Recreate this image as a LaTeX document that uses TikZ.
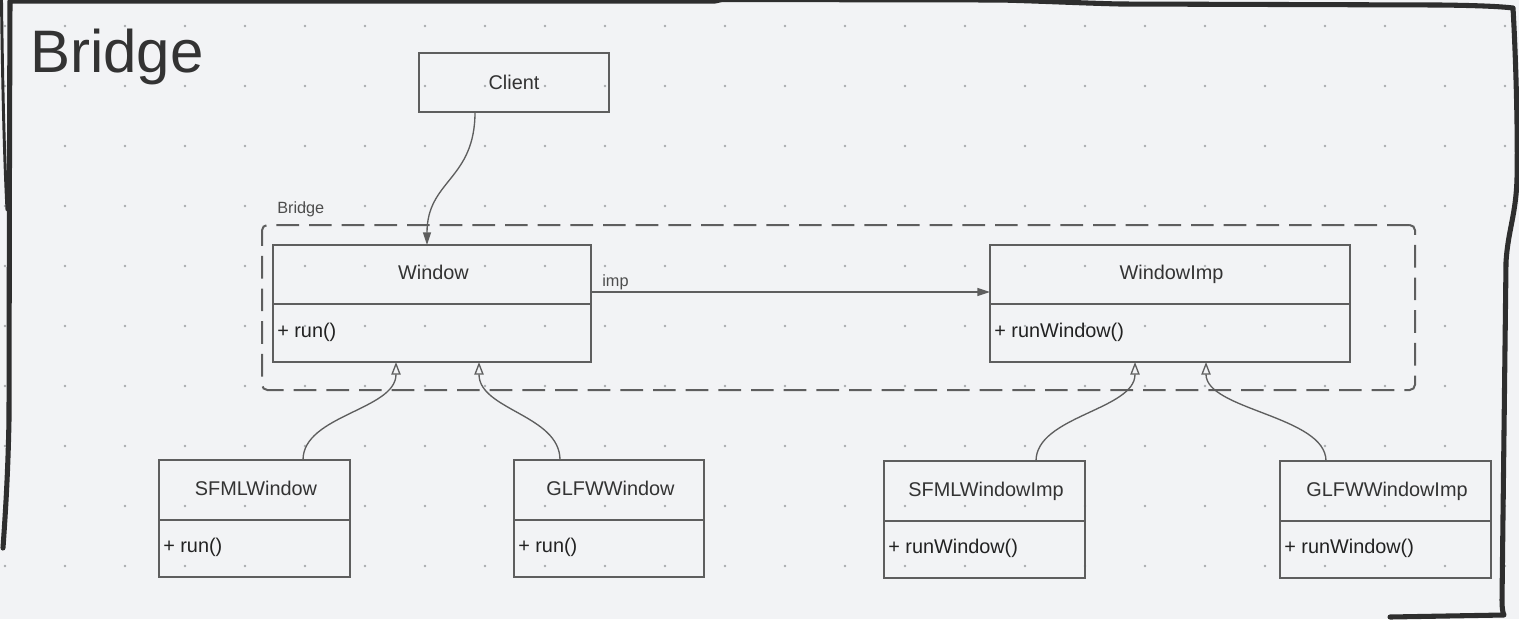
\documentclass[tikz,border=0pt]{standalone}
\usepackage{fontspec}
\setmainfont{Liberation Sans}
\usetikzlibrary{arrows.meta,calc}

\definecolor{canvas}{HTML}{F2F3F5}
\definecolor{griddot}{HTML}{A9ABAE}
\definecolor{ink}{HTML}{333333}
\definecolor{inkdark}{HTML}{222222}
\definecolor{umlline}{HTML}{5E5E5E}
\definecolor{marker}{HTML}{2E2E2E}
\definecolor{labelgray}{HTML}{4D4D4D}

% UML class: name, left, top, right, divider y, bottom, class name, operation
\newcommand\umlclass[8]{%
  \node[classbox, minimum width={(#4-#2)*0.75pt}, minimum height={(#6-#3)*0.75pt}]
    (#1) at ({(#2+#4)/2},{(#3+#6)/2}) {};
  \draw[divider] ($(#1.north west)+(0,#5-#3)$) -- ($(#1.north east)+(0,#5-#3)$);
  \node[classname] (#1-name) at ({(#2+#4)/2+1.5},{(#3+#5)/2+5}) {#7};
  \node[classop] (#1-op) at ({#2+4},{(#5+#6)/2+4}) {#8};
}

\begin{document}
\begin{tikzpicture}[x=0.75pt,y=-0.75pt,
  classbox/.style={draw=umlline, line width=1.5pt, inner sep=0pt, outer sep=0pt},
  divider/.style={draw=umlline, line width=1.5pt},
  classname/.style={anchor=base, inner sep=0pt, text=ink, font=\fontsize{14.9}{17}\selectfont},
  classop/.style={anchor=base west, inner sep=0pt, text=inkdark, font=\fontsize{14.9}{17}\selectfont},
  smalllabel/.style={inner sep=0pt, text=labelgray, font=\fontsize{12.2}{14}\selectfont},
  assoc/.style={draw=umlline, line width=1pt, -{Triangle[length=9.5pt,width=6pt]}},
  inherit/.style={draw=umlline, line width=1pt, -{Triangle[open,length=9.5pt,width=7pt]}},
  border/.style={draw=marker, line width=3.8pt, line cap=round, line join=round},
]
\useasboundingbox (0,0) rectangle (1519,619);
\clip (0,0) rectangle (1519,619);
\fill[canvas] (0,0) rectangle (1519,619);

% dotted canvas grid
\foreach \i in {0,...,25}{
  \foreach \j in {0,...,9}{
    \fill[griddot] ({5+60*\i},{26+60*\j}) circle[radius=1pt];
  }
}

% hand-drawn frame
\draw[border] (3,548) .. controls (6,505) and (8,470) .. (9,420) -- (9.5,150) -- (10,1)
  -- (715,1) -- (722,-0.5) -- (1000,0) .. controls (1040,1) and (1080,3) .. (1120,4)
  -- (1440,5) .. controls (1480,5.5) and (1500,6.5) .. (1513,8)
  .. controls (1516,60) and (1518,140) .. (1517,178)
  .. controls (1516,215) and (1508,230) .. (1506,262)
  -- (1502,600) .. controls (1502,610) and (1503,613) .. (1504,615)
  -- (1390,617);
\draw[draw=marker, line width=2.2pt, line cap=round] (1.5,0) .. controls (2.5,80) and (4,150) .. (7,210);

% title
\node[anchor=base west, inner sep=0pt, text=ink, font=\fontsize{45}{50}\selectfont]
  (title) at (30,72) {Bridge};

% group frame
\node[draw=umlline, line width=1.5pt, dash pattern=on 17pt off 7.5pt, rounded corners=4pt,
  inner sep=0pt, outer sep=0pt,
  minimum width={(1415-262)*0.75pt}, minimum height={(390-225)*0.75pt}]
  (bridge-group) at (838.5,307.5) {};
\node[smalllabel, anchor=base west] (group-label) at (277,213) {Bridge};

% client
\node[classbox, text=ink, font=\fontsize{14.9}{17}\selectfont,
  minimum width={190*0.75pt}, minimum height={59*0.75pt}]
  (client) at (514,82.5) {Client};

% classes
\umlclass{win}{273}{245}{591}{304}{362}{Window}{+ run()}
\umlclass{winimp}{990}{245}{1350}{304}{362}{WindowImp}{+ runWindow()}
\umlclass{sfml}{159}{460}{350}{520}{577}{SFMLWindow}{+ run()}
\umlclass{glfw}{514}{460}{704}{520}{577}{GLFWWindow}{+ run()}
\umlclass{sfmlimp}{884}{461}{1085}{521}{578}{SFMLWindowImp}{+ runWindow()}
\umlclass{glfwimp}{1280}{461}{1491}{521}{578}{GLFWWindowImp}{+ runWindow()}

% client uses the abstraction
\draw[assoc] ($(client.south west)+(56,0)$)
  .. controls +(0,68) and +(0,-65) .. ($(win.north west)+(154,0)$);

% abstraction holds the implementor
\draw[assoc] ($(win.north east)+(0,47)$) --
  node[pos=0, anchor=base west, smalllabel, xshift=8pt, yshift=4.5pt] (imp-label) {imp}
  ($(winimp.north west)+(0,47)$);

% generalisations
\draw[inherit] ($(sfml.north west)+(144,0)$)
  .. controls +(0,-45) and +(0,48) .. ($(win.south west)+(123,0)$);
\draw[inherit] ($(glfw.north west)+(46,0)$)
  .. controls +(0,-45) and +(0,48) .. ($(win.south west)+(206,0)$);
\draw[inherit] ($(sfmlimp.north west)+(152,0)$)
  .. controls +(0,-45) and +(0,48) .. ($(winimp.south west)+(145,0)$);
\draw[inherit] ($(glfwimp.north west)+(46,0)$)
  .. controls +(0,-45) and +(0,48) .. ($(winimp.south west)+(216,0)$);
\end{tikzpicture}
\end{document}
